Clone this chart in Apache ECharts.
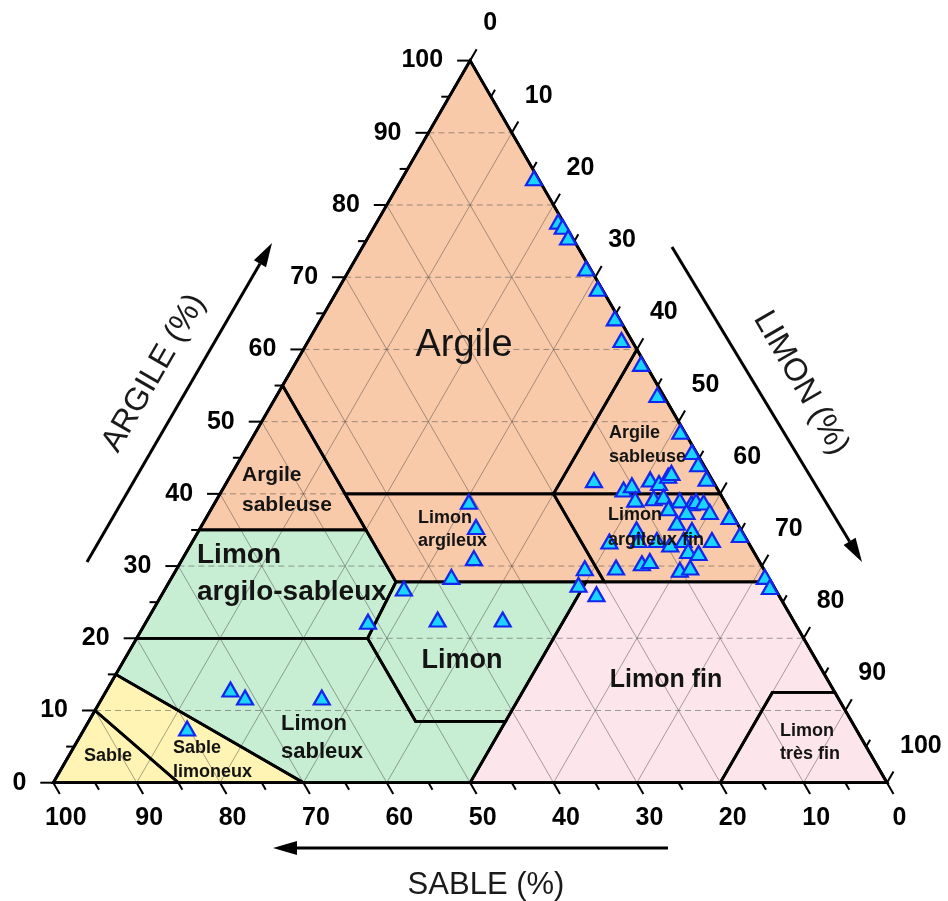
<!DOCTYPE html>
<html>
<head>
<meta charset="utf-8">
<script src="https://cdn.jsdelivr.net/npm/echarts@6/dist/echarts.min.js"></script>
<style>
  html, body { margin: 0; padding: 0; background: #fff; }
  #chart { width: 948px; height: 901px; }
</style>
</head>
<body>
<div id="chart"></div>
<script>
// soil samples, % sand and % clay (silt = 100 - sand - clay)
const sand = [
  0.5, 0.6, 0.4, 0.5, 0.5, 0.5, 0.5, 1.2, 0.5, 0.7, 0.5, 0.5,
  14.2, 11.3, 10.0, 7.4, 6.6, 5.0, 4.4, 0.6, 0.6,
  10.6, 8.3, 7.0, 5.3, 4.1, 3.4, 2.6, 7.2, 5.3, 2.5, 0.5,
  12.5, 7.2, 5.9, 16.6, 13.0, 10.8, 9.5, 7.6, 4.2, 0.5,
  7.8, 6.7, 14.2, 13.1, 17.6, 21.4, 10.1, 8.7, 23.3, 21.8, 0.4, 0.5,
  30.7, 31.6, 34.0, 38.0, 44.5, 51.1, 42.6, 34.8,
  72.3, 71.1, 80.2, 61.9
];
const clay = [
  83.7, 77.7, 77.0, 75.5, 71.2, 68.4, 64.3, 61.3, 58.0, 53.7, 48.6, 45.8,
  41.9, 40.6, 41.2, 42.0, 41.5, 42.5, 42.9, 44.1, 42.1,
  39.2, 39.4, 39.6, 39.1, 38.7, 39.0, 38.8, 38.0, 37.5, 37.5, 36.8,
  35.1, 36.0, 35.0, 33.4, 33.6, 33.6, 33.0, 33.6, 33.6, 34.3,
  32.1, 31.8, 30.4, 30.7, 29.8, 29.7, 29.5, 29.8, 27.4, 26.1, 28.5, 27.1,
  38.9, 35.4, 31.1, 28.5, 26.9, 22.3, 22.6, 22.6,
  12.9, 11.8, 7.5, 11.8
];

// texture classes: vertices as [sand, clay]
const classNames = [
  'Argile', 'Argile sableuse', 'Argile sableuse (limon)', 'Limon argileux',
  'Limon argileux fin', 'Limon argilo-sableux', 'Limon', 'Limon sableux',
  'Limon fin', 'Limon très fin', 'Sable limoneux', 'Sable'
];
const classPolygons = [
  [[0, 100], [0, 60], [20, 40], [45, 40], [45, 55]],
  [[45, 55], [45, 35], [65, 35]],
  [[0, 60], [0, 40], [20, 40]],
  [[45, 40], [20, 40], [20, 27.8], [45, 27.8]],
  [[20, 40], [0, 40], [0, 27.8], [20, 27.8]],
  [[65, 35], [45, 35], [45, 27.8], [52.3, 20], [80, 20]],
  [[45, 27.8], [22.2, 27.8], [41.5, 8.5], [52.3, 8.5], [52.3, 20]],
  [[80, 20], [52.3, 20], [52.3, 8.5], [41.5, 8.5], [50, 0], [70, 0], [85, 15]],
  [[50, 0], [22.2, 27.8], [0, 27.8], [0, 12.5], [7.5, 12.5], [20, 0]],
  [[20, 0], [7.5, 12.5], [0, 12.5], [0, 0]],
  [[85, 15], [70, 0], [85, 0], [90, 10]],
  [[90, 10], [85, 0], [100, 0]]
];
const classGroup = ['argile', 'argile', 'argile', 'argile', 'argile', 'limon', 'limon', 'limon', 'fin', 'fin', 'sable', 'sable'];

const tickValues = [0, 10, 20, 30, 40, 50, 60, 70, 80, 90, 100];
const gridValues = [10, 20, 30, 40, 50, 60, 70, 80, 90];

const groupColors = { argile: '#f8caa9', limon: '#c7edd2', fin: '#fce6ec', sable: '#fff4b3' };
const FONT = '"Liberation Sans", Arial, sans-serif';
const SQ = Math.sqrt(3) / 2;

// ternary (sand, clay) -> cartesian, sand 100 on the left, clay 100 at the top
function tern(s, c) {
  return [100 - s - c / 2, c * SQ];
}

var chart = echarts.init(document.getElementById('chart'));

function renderFill(params, api) {
  const poly = classPolygons[params.dataIndex];
  return {
    type: 'polygon',
    shape: { points: poly.map((v) => api.coord(tern(v[0], v[1]))) },
    style: { fill: groupColors[classGroup[params.dataIndex]] }
  };
}

function renderBorder(params, api) {
  const poly = classPolygons[params.dataIndex];
  return {
    type: 'polygon',
    shape: { points: poly.map((v) => api.coord(tern(v[0], v[1]))) },
    style: { fill: null, stroke: '#000', lineWidth: 2.8, lineJoin: 'miter' }
  };
}

function renderGrid(params, api) {
  const kids = [];
  const seg = (a, b, dash) => {
    const p = api.coord(a), q = api.coord(b);
    kids.push({
      type: 'line',
      shape: { x1: p[0], y1: p[1], x2: q[0], y2: q[1] },
      style: { stroke: dash ? 'rgba(70,70,70,0.5)' : 'rgba(60,60,60,0.45)', lineWidth: 1, lineDash: dash ? [6, 4] : null }
    });
  };
  gridValues.forEach((v) => {
    seg(tern(100 - v, v), tern(0, v), true);       // clay
    seg(tern(v, 0), tern(v, 100 - v), false);      // sand
    seg(tern(100 - v, 0), tern(0, 100 - v), false); // silt
  });
  return { type: 'group', children: kids };
}

function renderAxes(params, api) {
  const kids = [];
  const tick = (p, dx, dy, len) => kids.push({
    type: 'line',
    shape: { x1: p[0], y1: p[1], x2: p[0] + dx * len, y2: p[1] + dy * len },
    style: { stroke: '#000', lineWidth: 2 }
  });
  const label = (p, ox, oy, txt, align) => kids.push({
    type: 'text',
    x: p[0] + ox,
    y: p[1] + oy,
    style: { text: String(txt), font: 'bold 25px ' + FONT, fill: '#000', align: align, verticalAlign: 'middle' }
  });
  for (let v = 0; v <= 100; v += 5) {
    const len = v % 10 === 0 ? 13 : 8;
    tick(api.coord(tern(v, 0)), 0.5, SQ, len);
    tick(api.coord(tern(100 - v, v)), -1, 0, len);
    tick(api.coord(tern(0, 100 - v)), 0.5, -SQ, len);
  }
  tickValues.forEach((v) => {
    label(api.coord(tern(v, 0)), 12.5, 35, v, 'center');
    label(api.coord(tern(100 - v, v)), -27, 0, v, 'right');
    label(api.coord(tern(0, 100 - v)), 13, -37, v, 'left');
  });
  const outline = [tern(100, 0), tern(0, 0), tern(0, 100)].map((p) => api.coord(p));
  kids.push({ type: 'polygon', shape: { points: outline }, style: { fill: null, stroke: '#000', lineWidth: 2.8 } });
  return { type: 'group', children: kids };
}

// text annotations [text, x, y, size, weight, align]
const labelLayout = [
  ['Argile', 464, 346, 38, 'normal', 'center'],
  ['Argile', 242, 475, 21, 'bold', 'left'],
  ['sableuse', 242, 505, 21, 'bold', 'left'],
  ['Argile', 609, 433, 18, 'bold', 'left'],
  ['sableuse', 609, 457, 18, 'bold', 'left'],
  ['Limon', 418, 518, 18, 'bold', 'left'],
  ['argileux', 418, 541, 18, 'bold', 'left'],
  ['Limon', 608, 515, 18, 'bold', 'left'],
  ['argileux fin', 608, 540, 18, 'bold', 'left'],
  ['Limon', 197, 555, 28, 'bold', 'left'],
  ['argilo-sableux', 197, 592, 28, 'bold', 'left'],
  ['Limon', 462, 661, 27, 'bold', 'center'],
  ['Limon fin', 666, 680, 25, 'bold', 'center'],
  ['Limon', 807, 731, 18, 'bold', 'center'],
  ['très fin', 810, 754, 18, 'bold', 'center'],
  ['Limon', 281, 724, 22, 'bold', 'left'],
  ['sableux', 281, 752, 22, 'bold', 'left'],
  ['Sable', 108, 756, 18, 'bold', 'center'],
  ['Sable', 173, 748, 18, 'bold', 'left'],
  ['limoneux', 173, 772, 18, 'bold', 'left']
];

function arrow(x1, y1, x2, y2) {
  const L = Math.hypot(x2 - x1, y2 - y1);
  const ux = (x2 - x1) / L, uy = (y2 - y1) / L;
  const hl = 24, hw = 7;
  const bx = x2 - ux * hl, by = y2 - uy * hl;
  return [
    { type: 'line', z: 50, shape: { x1: x1, y1: y1, x2: bx, y2: by }, style: { stroke: '#000', lineWidth: 3 } },
    { type: 'polygon', z: 50, shape: { points: [[x2, y2], [bx - uy * hw, by + ux * hw], [bx + uy * hw, by - ux * hw]] }, style: { fill: '#000' } }
  ];
}

const graphics = labelLayout.map((l) => ({
  type: 'text', z: 60, x: l[1], y: l[2],
  style: { text: l[0], font: l[4] + ' ' + l[3] + 'px ' + FONT, fill: '#141414', align: l[5], verticalAlign: 'middle' }
}));
graphics.push(
  { type: 'text', z: 60, x: 486, y: 885, style: { text: 'SABLE (%)', font: '31px ' + FONT, fill: '#1a1a1a', align: 'center', verticalAlign: 'middle' } },
  { type: 'text', z: 60, x: 154, y: 373, rotation: Math.PI / 3, style: { text: 'ARGILE (%)', font: '32px ' + FONT, fill: '#1a1a1a', align: 'center', verticalAlign: 'middle' } },
  { type: 'text', z: 60, x: 801, y: 383, rotation: -Math.PI / 3, style: { text: 'LIMON (%)', font: '32px ' + FONT, fill: '#1a1a1a', align: 'center', verticalAlign: 'middle' } }
);
graphics.push(...arrow(87, 562, 272, 243));
graphics.push(...arrow(672, 247, 862, 562));
graphics.push(...arrow(668, 848, 273, 848));

const option = {
  animation: false,
  backgroundColor: '#fff',
  grid: { left: 53.3, top: 60.6, width: 833.7, height: 722.1 },
  xAxis: { type: 'value', min: 0, max: 100, show: false },
  yAxis: { type: 'value', min: 0, max: 100 * SQ, show: false },
  graphic: { elements: graphics },
  series: [
    { type: 'custom', name: 'classes', z: 1, silent: true, renderItem: renderFill, data: classNames.map((n, i) => [i, 0]) },
    { type: 'custom', name: 'grid', z: 2, silent: true, renderItem: renderGrid, data: [[0, 0]] },
    { type: 'custom', name: 'bounds', z: 3, silent: true, renderItem: renderBorder, data: classNames.map((n, i) => [i, 0]) },
    { type: 'custom', name: 'axes', z: 4, silent: true, renderItem: renderAxes, data: [[0, 0]] },
    {
      type: 'scatter', name: 'samples', z: 5,
      symbol: 'triangle', symbolSize: [16, 14],
      itemStyle: { color: '#1ad5ff', borderColor: '#1226ee', borderWidth: 2.2, opacity: 1 },
      data: sand.map((s, i) => tern(s, clay[i]))
    }
  ]
};

chart.setOption(option);
</script>
</body>
</html>
